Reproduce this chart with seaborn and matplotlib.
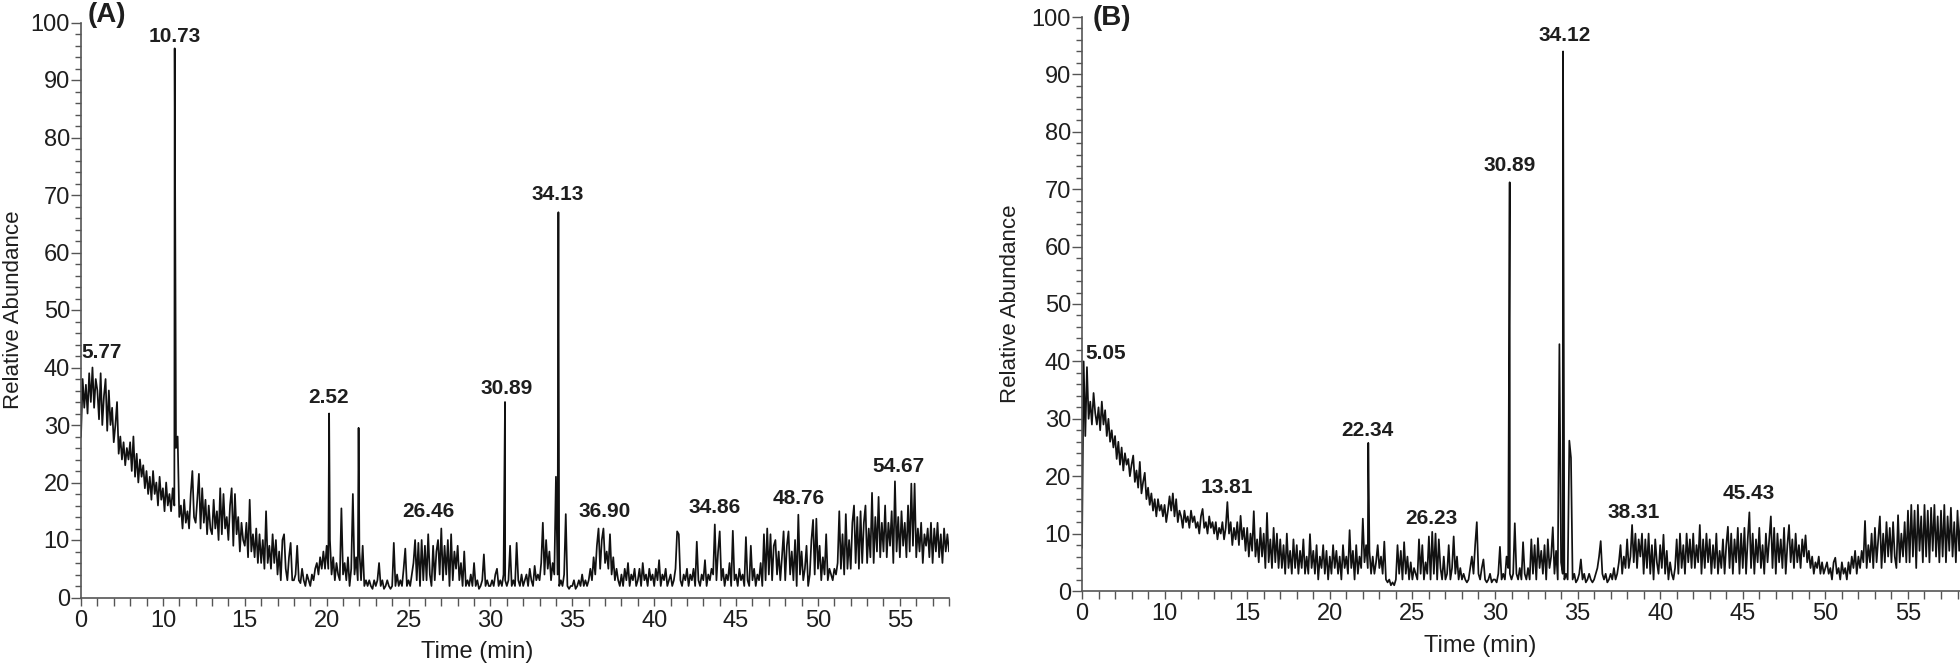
import numpy as np
import pandas as pd
import matplotlib
matplotlib.use("Agg")
import matplotlib.pyplot as plt
from matplotlib.ticker import MultipleLocator
import seaborn as sns

# =========================
# DATA (0.1 min steps from 5.0 min)
# =========================
t_start = 5.0
t_step = 0.1

a_abundance = [
    28, 38, 33, 37, 32, 39, 34, 40, 33, 38,      # 5
    36, 31, 39, 30, 35, 38, 29, 36, 30, 33,
    27, 30, 34, 25, 28, 24, 27, 23, 26, 24,
    27, 22, 28, 21, 25, 20, 24, 21, 23, 19,
    22, 18, 21, 17, 22, 18, 20, 16, 21, 17,
    19, 15, 20, 16, 18, 15, 19, 16, 26, 28,      # 10
    14, 16, 12, 17, 13, 15, 12, 18, 22, 14,
    13, 17, 21.5, 12, 19, 13, 17, 11, 16, 12,
    11, 17, 12, 15, 10, 19, 11, 18, 12, 14,
    10, 16, 19, 9, 18, 11, 14, 8, 13, 10,
    9, 13, 7, 17, 8, 11, 7, 12, 6, 11,           # 15
    6, 10, 5, 15, 6, 9, 5, 11, 6, 10,
    4, 8, 3, 10, 11, 5, 3, 7, 9.5, 3,
    3, 4, 9, 3, 2.5, 5, 3, 2, 4, 3,
    2, 4, 3, 5, 6, 4, 7, 5, 8, 5,
    9, 5, 10, 4, 7, 3, 6, 4, 3, 15.5,            # 20
    4, 6, 3, 7, 2, 5, 18, 4, 7, 3,
    8, 3, 9, 2, 3, 2, 3, 2, 1.5, 3,
    2, 3, 6, 2, 3, 1.5, 2, 3, 2, 1.5,
    2, 9.5, 2, 4, 2, 3, 2, 5, 8.5, 2,
    3, 2, 4, 6, 10, 3, 9.5, 2, 10, 3,            # 25
    9, 3, 11, 4, 2, 9, 3, 8, 10, 4,
    12, 3, 9, 4, 10, 2, 11, 3, 8, 5,
    9, 3, 6, 2, 8, 2, 3, 2, 4, 2,
    6, 2, 3, 1.5, 2, 3, 7.5, 2, 3, 2,
    2, 3, 2, 4, 5, 2, 3, 2, 4, 3,                # 30
    2, 3, 9, 2, 3, 2, 9.5, 3, 2, 4,
    2, 3, 4, 2, 5, 3, 2, 5.5, 3, 4,
    3, 6, 13, 4, 10, 5, 8, 3, 6, 4,
    21, 4, 2, 3, 2, 4, 14.5, 2, 1.5, 2,
    2, 3, 1.5, 2, 3, 2, 4, 2, 3, 2,              # 35
    3, 5, 3, 7, 4, 9, 12, 5, 10, 12,
    6, 8, 5, 11, 4, 7, 3, 5, 3, 2,
    4, 2, 5, 3, 6, 2, 4, 3, 5, 2,
    3, 5, 2, 6, 3, 4, 2, 5, 3, 4,
    2, 5, 3, 6.5, 2, 4, 3, 5, 2, 3,              # 40
    4, 2, 3, 5, 11.5, 11, 3, 2, 4, 3,
    5, 2, 4, 3, 5, 2, 9.7, 3, 2, 4,
    3, 6.5, 2, 4, 3, 5, 4, 12.7, 3, 8,
    11.5, 3, 5, 2, 4, 3, 6, 2, 11.6, 3,
    4, 2, 5, 3, 4, 2, 10.5, 3, 2, 9,             # 45
    3, 5, 2, 4, 3, 6, 2, 11, 3, 12,
    4, 11, 3, 9, 10, 4, 8, 3, 7, 11.5,
    3, 9, 11.5, 4, 8, 3, 10, 2, 14.4, 4,
    8, 3, 5, 9, 2, 4, 10, 13.5, 4, 13.7,
    5, 9, 3, 7, 4, 11, 3, 5, 4, 3,               # 50
    5, 4, 6, 15, 5, 11, 4, 14.5, 5, 10,
    5, 13, 16, 6, 14, 5, 15, 6, 13, 16,
    6, 12, 7, 18.2, 6, 14, 8, 17.5, 7, 13,
    8, 16, 7, 13, 9, 15, 6, 20.2, 8, 14,
    7, 15, 9, 13, 7, 16, 8, 19.8, 9, 19.8,       # 55
    7, 12, 8, 13, 6, 11, 9, 12, 7, 13,
    6, 12, 8, 13, 7, 11, 6, 12, 8, 11,
    8,
]

b_abundance = [
    7.5, 40, 27, 39, 30, 33, 29, 34.5, 31, 29,   # 5
    32, 28, 33, 29, 31.5, 27, 30, 26, 28, 25,
    27, 23, 26, 22, 25, 21, 24, 22, 23, 20,
    22, 23.6, 19, 21, 18, 22.5, 17, 19, 20.6, 16,
    18, 15, 17, 14, 16, 13, 16, 14, 15, 13,
    15, 12, 14, 16.5, 14, 17, 13, 16, 12, 14,    # 10
    13, 11, 14, 12, 13, 11, 14, 12, 13, 11,
    12, 10, 13, 14.3, 11, 12, 10, 13, 11, 12,
    10, 12, 9, 11, 10, 12, 9, 11, 15.5, 10,
    12, 8, 11, 9, 12, 8, 13.1, 9, 11, 7,
    11, 6, 10, 7, 13.9, 6, 9, 5, 11, 6,          # 15
    10, 4, 13.6, 5, 9, 4, 11, 5, 10, 4,
    9, 4, 8, 3, 10, 4, 7, 3, 9, 4,
    8, 3, 7, 4, 9, 3, 6, 3, 9.9, 4,
    7, 3, 8, 2, 6, 4, 8, 3, 7, 2,
    6, 3, 8, 4, 7, 3, 6, 2, 8, 4,                # 20
    6, 3, 10.6, 4, 7, 2, 8, 3, 6, 4,
    12.6, 5, 8, 4, 7, 3, 6, 3, 5, 8,
    4, 6, 3, 8.6, 2, 1.5, 2, 1, 1.5, 1,
    2, 8, 3, 7, 2, 8.5, 3, 6, 2, 5,
    2, 4, 3, 2, 9, 3, 8, 2, 5, 3,                # 25
    9.5, 2, 10.3, 3, 10, 2, 9, 4, 2, 6,
    2, 3, 8, 2, 4, 9.5, 3, 6, 2, 4,
    2, 3, 2, 1.5, 2, 4, 6, 3, 8, 12,
    3, 2, 4, 5.5, 2, 1.5, 2, 3, 1.5, 2,
    2, 1.5, 3, 7.7, 2, 3, 2, 6, 4, 3,            # 30
    2, 3, 11.8, 3, 2, 4, 2, 8.5, 3, 2,
    4, 2, 9, 3, 8, 2, 9.2, 4, 7, 3,
    8, 2, 9, 4, 6, 11.1, 3, 7, 2, 43,
    5, 3, 2, 3, 2, 26.2, 23.2, 2, 3, 1.5,
    2, 3, 5.5, 2, 3, 1.5, 2, 3, 2, 1.5,          # 35
    2, 3, 4, 6, 8.7, 3, 2, 3, 1.5, 2,
    3, 2, 4, 2, 3, 5, 8, 3, 6, 4,
    9, 4, 6, 11.5, 5, 10, 4, 9, 6, 10,
    3, 9, 4, 10, 3, 8, 2, 9, 5, 3,
    8, 4, 9.8, 3, 7, 2, 5, 3, 2, 4,              # 40
    9, 3, 10, 4, 8, 3, 10, 5, 9, 4,
    10, 4, 8, 5, 11.5, 3, 9, 4, 10, 5,
    9, 3, 8, 4, 10, 3, 7, 4, 9, 3,
    8, 11.2, 4, 10, 3, 9, 5, 11, 3, 10,
    4, 11, 3, 9, 13.7, 4, 10, 3, 9, 5,           # 45
    11, 4, 8, 3, 10, 5, 9, 13, 4, 11,
    3, 10, 5, 9, 4, 11, 3, 8, 11.5, 5,
    9, 4, 10, 5, 8, 4, 9, 6, 9.7, 5,
    7, 4, 6, 3, 5, 4, 6, 3, 5, 3,
    4, 5, 3, 4, 2, 5, 5.8, 3, 4, 2,              # 50
    5, 3, 4, 2, 5, 3, 6, 4, 7, 3,
    6, 4, 7, 5, 12.2, 4, 8, 5, 10, 4,
    11, 5, 9, 13, 4, 10, 5, 12, 6, 11,
    5, 12, 6, 4, 13.2, 5, 10, 6, 12, 5,
    14, 5, 15, 6, 14, 4, 15, 7, 13, 5,           # 55
    15, 6, 14, 5, 14.5, 7, 15, 6, 13, 5,
    14, 6, 15, 5, 13, 7, 14.5, 6, 12, 5,
    14, 7, 13, 6, 15, 7,
]

# sharp peaks between grid points
a_peak_time = [10.72, 20.15, 21.95, 30.89, 34.15]
a_peak_value = [95.5, 32, 29.5, 34, 67]
b_peak_time = [22.33, 30.89, 34.12]
b_peak_value = [25.8, 71.2, 94]

# peak labels (text as printed in the figure)
a_label_text = ["5.77", "10.73", "2.52", "26.46", "30.89", "34.13", "36.90", "34.86", "48.76", "54.67"]
a_label_time = [6.27, 10.73, 20.1, 26.2, 31.0, 34.1, 37.0, 43.67, 48.8, 54.9]
a_label_value = [42.6, 97.6, 34.8, 15.0, 36.3, 70.0, 15.0, 15.7, 17.2, 22.8]

b_label_text = ["5.05", "13.81", "22.34", "26.23", "30.89", "34.12", "38.31", "45.43"]
b_label_time = [6.41, 13.79, 22.3, 26.17, 30.91, 34.21, 38.42, 45.38]
b_label_value = [41.3, 18.1, 27.9, 12.6, 74.2, 96.7, 13.7, 16.9]

x_ticks = [5, 10, 15, 20, 25, 30, 35, 40, 45, 50, 55]
x_tick_labels = ["0", "10", "15", "20", "25", "30", "35", "40", "45", "50", "55"]

# =========================
# STYLE
# =========================
sns.set_style("ticks")
plt.rcParams["font.family"] = ["Liberation Sans", "DejaVu Sans"]

TEXT = "#1e1e1e"
AXIS = "#555555"


def build_frame(values, peak_time, peak_value):
    grid = np.round(t_start + t_step * np.arange(len(values)), 2)
    df = pd.DataFrame({
        "time": np.concatenate([grid, peak_time]),
        "abundance": np.concatenate([values, peak_value]),
    })
    return df.sort_values("time")


def draw_panel(ax, df, xmax, lab_text, lab_time, lab_value, xlab_x, ylab_x):
    sns.lineplot(data=df, x="time", y="abundance", ax=ax, estimator=None,
                 sort=True, color="#111111", linewidth=1.25)

    ax.set_xlim(5, xmax)
    ax.set_ylim(0, 100)
    ax.set_xticks(x_ticks)
    ax.set_xticklabels(x_tick_labels)
    ax.xaxis.set_minor_locator(MultipleLocator(1))
    ax.set_yticks(range(0, 101, 10))
    ax.yaxis.set_minor_locator(MultipleLocator(2))

    ax.tick_params(axis="y", which="major", length=7, width=1.0, pad=1,
                   labelsize=17, color=AXIS, labelcolor=TEXT)
    ax.tick_params(axis="y", which="minor", length=4, width=1.0, color=AXIS)
    ax.tick_params(axis="x", which="both", length=6, width=1.0, pad=3,
                   labelsize=17, color=AXIS, labelcolor=TEXT)

    sns.despine(ax=ax)
    for side in ["left", "bottom"]:
        ax.spines[side].set_color(AXIS)
        ax.spines[side].set_linewidth(1.2)

    for txt, x, y in zip(lab_text, lab_time, lab_value):
        ax.text(x, y, txt, ha="center", va="center", fontsize=15,
                fontweight="bold", color=TEXT)

    ax.set_xlabel("Time (min)", fontsize=17, color=TEXT)
    ax.xaxis.set_label_coords(xlab_x, -0.095)
    ax.xaxis.label.set_va("center")
    ax.set_ylabel("Relative Abundance", fontsize=16, color=TEXT)
    ax.yaxis.set_label_coords(ylab_x, 0.5)
    ax.yaxis.label.set_va("center")


# =========================
# FIGURE
# =========================
fig = plt.figure(figsize=(19.6, 6.67), dpi=100)
ax_a = fig.add_axes([81 / 1960, 1 - 597.5 / 667, 868 / 1960, 575 / 667])
ax_b = fig.add_axes([1082 / 1960, 1 - 591 / 667, 878 / 1960, 574 / 667])

draw_panel(ax_a, build_frame(a_abundance, a_peak_time, a_peak_value), 58.0,
           a_label_text, a_label_time, a_label_value, 0.457, -0.078)
draw_panel(ax_b, build_frame(b_abundance, b_peak_time, b_peak_value), 58.15,
           b_label_text, b_label_time, b_label_value, 0.454, -0.081)

fig.text(88 / 1960, 1 - 28 / 667, "(A)", fontsize=20, fontweight="bold",
         color=TEXT, va="bottom")
fig.text(1093 / 1960, 1 - 31 / 667, "(B)", fontsize=20, fontweight="bold",
         color=TEXT, va="bottom")

plt.savefig("out.png", dpi=100)
